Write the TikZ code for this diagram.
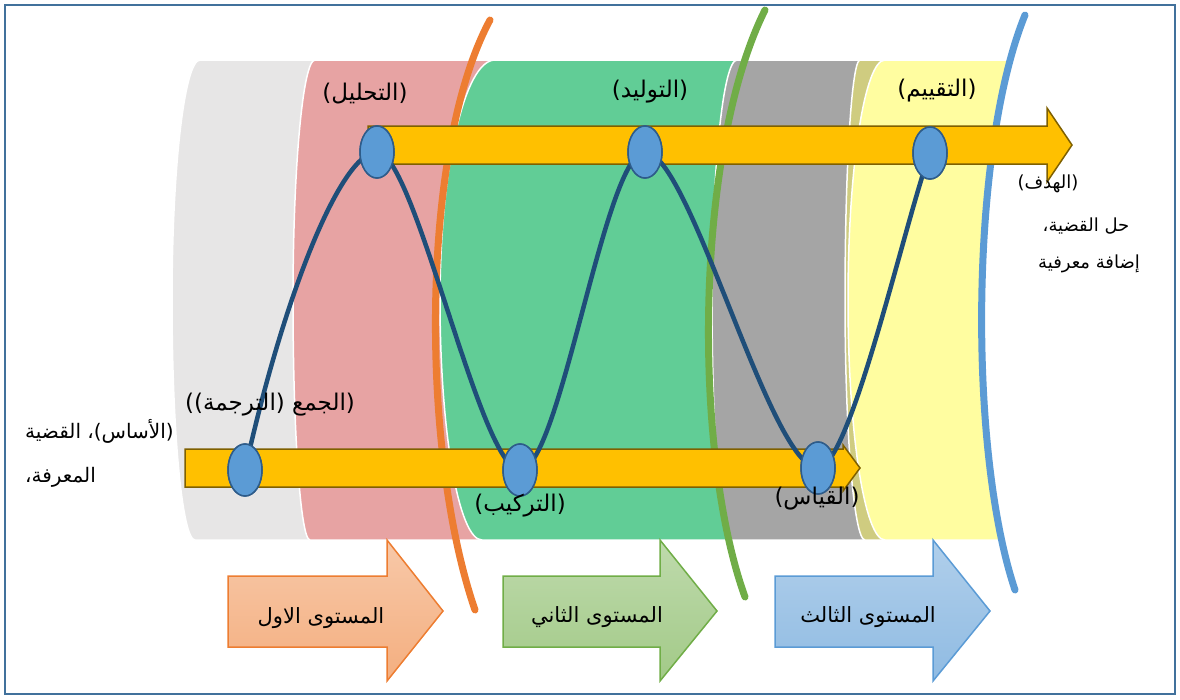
\documentclass[tikz,border=0pt]{standalone}
\usepackage{fontspec}
\newfontfamily\arabicfont[Script=Arabic]{DejaVu Sans}
\TeXXeTstate=1
\usetikzlibrary{shapes.geometric}
\definecolor{bgray}{HTML}{E7E6E6}
\definecolor{bpink}{HTML}{E7A3A3}
\definecolor{bgreen}{HTML}{61CD96}
\definecolor{bdgray}{HTML}{A5A5A5}
\definecolor{bolive}{HTML}{CFCC80}
\definecolor{byellow}{HTML}{FFFDA0}
\definecolor{aorange}{HTML}{ED7D31}
\definecolor{agreen}{HTML}{70AD47}
\definecolor{ablue}{HTML}{5B9BD5}
\definecolor{arrfill}{HTML}{FFC000}
\definecolor{arrline}{HTML}{7F6000}
\definecolor{wavec}{HTML}{1F4E79}
\definecolor{dotline}{HTML}{2E5C8A}
\definecolor{framec}{HTML}{41719C}
\newcommand\bandshape[4]{(#4,60) -- (#1,60) .. controls ({#1-0.552*(#1-#2)},60) and (#2,167.5) .. (#2,300) .. controls (#2,432.5) and ({#3-0.552*(#3-#2)},540) .. (#3,540) -- (#4,540) -- cycle}
\begin{document}
\begin{tikzpicture}[x=1pt,y=-1pt,
  band/.style={draw=white,line width=1.5pt},
  levelarc/.style={line width=7pt,line cap=round},
  bigarrow/.style={fill=arrfill,draw=arrline,line width=1.5pt,line join=miter},
  wave/.style={draw=wavec,line width=4.5pt,line cap=round},
  dot/.style={ellipse,draw=dotline,fill=ablue,line width=1.5pt,minimum width=34pt,minimum height=52pt,inner sep=0pt},
  lbl/.style={inner sep=0pt,font=\arabicfont\fontsize{23}{27}\selectfont},
  lvltext/.style={inner sep=0pt,font=\arabicfont\fontsize{21}{25}\selectfont},
  slbl/.style={inner sep=0pt,font=\arabicfont\fontsize{20}{24}\selectfont},
  rlbl/.style={inner sep=0pt,font=\arabicfont\fontsize{18}{22}\selectfont},
  lvl/.style={line width=1.5pt,line join=miter}]
\useasboundingbox (0,0) rectangle (1180,699);
% background bands
\fill[bgray,band] \bandshape{200}{172}{195}{340};
\fill[bpink,band] \bandshape{315}{293}{310}{500};
\fill[bgreen,band] \bandshape{495}{440}{482}{770};
\fill[bdgray,band] \bandshape{737}{712}{730}{890};
\fill[bolive,band] \bandshape{860}{845}{865}{900};
\fill[byellow,band] (1009,60) -- (885,60) .. controls ({885-0.552*37},60) and (848,167.5) .. (848,300) .. controls (848,432.5) and ({885-0.552*37},540) .. (885,540) -- (1003,540) .. controls (970,440) and (972,170) .. (1009,60) -- cycle;
% level separators
\draw[levelarc,aorange] (490,20) .. controls (420,150) and (420,450) .. (475,610);
\draw[levelarc,agreen] (765,10) .. controls (695,150) and (692,450) .. (745,597);
\draw[levelarc,ablue] (1025,15) .. controls (970,150) and (968,450) .. (1015,590);
% yellow arrows
\draw[bigarrow] (368,126) -- (1047,126) -- (1047,108) -- (1072,145) -- (1047,182) -- (1047,164) -- (368,164) -- cycle;
\draw[bigarrow] (185,449) -- (843,449) -- (843,445) -- (860,468) -- (843,491) -- (843,487) -- (185,487) -- cycle;
% dots
\node[dot] (n1) at (245,470) {};
\node[dot] (n2) at (377,152) {};
\node[dot] (n3) at (520,470) {};
\node[dot] (n4) at (645,152) {};
\node[dot] (n5) at (818,468) {};
\node[dot] (n6) at (930,153) {};
% wave
\draw[wave] (n1.center) .. controls +(40,-180) and +(-35,0) .. (n2.center)
  .. controls +(38,0) and +(-40,0) .. (n3.center)
  .. controls +(40,0) and +(-40,0) .. (n4.center)
  .. controls +(45,0) and +(-48,0) .. (n5.center)
  .. controls +(32,0) and +(-25,68) .. (n6.center);
\node[dot] at (n1) {};
\node[dot] at (n2) {};
\node[dot] at (n3) {};
\node[dot] at (n4) {};
\node[dot] at (n5) {};
\node[dot] at (n6) {};
% labels
\node[lbl] (t1) at (365,94) {\beginR(التحليل)\endR};
\node[lbl] (t2) at (650,92) {\beginR(التوليد)\endR};
\node[lbl] (t3) at (937,91) {\beginR(التقييم)\endR};
\node[lbl] (t4) at (270,405) {\beginR(الجمع (الترجمة))\endR};
\node[lbl] (t5) at (520,506) {\beginR(التركيب)\endR};
\node[lbl] (t6) at (817,499) {\beginR(القياس)\endR};
\node[slbl,anchor=west] (t7) at (25,431) {\beginR(الأساس)، القضية\endR};
\node[slbl,anchor=west] (t8) at (25,477) {\beginR المعرفة،\endR};
\node[rlbl] (t9) at (1048,184) {\beginR(الهدف)\endR};
\node[rlbl] (t10) at (1086,226) {\beginR حل القضية،\endR};
\node[rlbl] (t11) at (1089,264) {\beginR إضافة معرفية\endR};
% level arrows
\draw[lvl,draw=aorange,top color=aorange!42!white,bottom color=aorange!62!white] (228,576) -- (387,576) -- (387,540) -- (443,611) -- (387,681) -- (387,647) -- (228,647) -- cycle;
\draw[lvl,draw=agreen,top color=agreen!45!white,bottom color=agreen!65!white] (503,576) -- (660,576) -- (660,540) -- (717,611) -- (660,681) -- (660,647) -- (503,647) -- cycle;
\draw[lvl,draw=ablue,top color=ablue!48!white,bottom color=ablue!68!white] (775,576) -- (933,576) -- (933,540) -- (990,611) -- (933,681) -- (933,647) -- (775,647) -- cycle;
\node[lvltext] (b1) at (321,618) {\beginR المستوى الاول\endR};
\node[lvltext] (b2) at (597,617) {\beginR المستوى الثاني\endR};
\node[lvltext] (b3) at (868,617) {\beginR المستوى الثالث\endR};
% frame
\draw[framec,line width=2pt] (5,5) rectangle (1175,694);
\end{tikzpicture}
\end{document}
